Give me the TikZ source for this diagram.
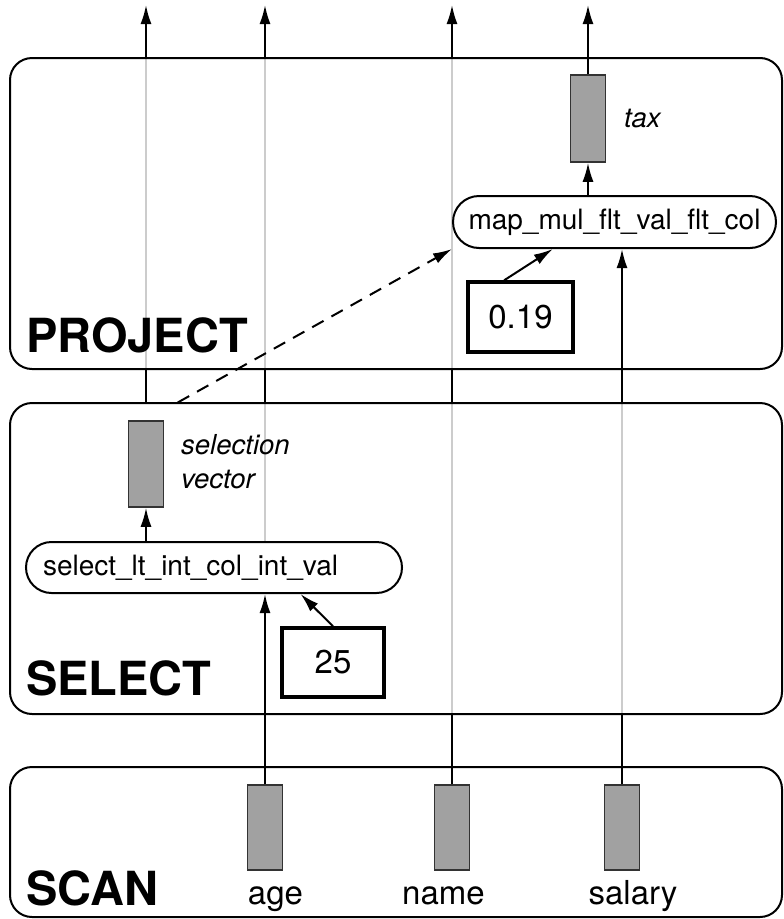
\documentclass[tikz,border=0pt]{standalone}
\usepackage{fontspec}
\setmainfont{TeX Gyre Heros}
\usetikzlibrary{arrows.meta,calc,backgrounds}
\begin{document}
\begin{tikzpicture}[x=1pt,y=-1pt,
  panel/.style={draw,line width=2pt,rounded corners=22pt,inner sep=0pt,minimum width=772pt},
  colbox/.style={draw=black!80,fill=black!37,line width=1.5pt,minimum width=35pt,inner sep=0pt},
  op/.style={draw,line width=2pt,inner sep=0pt,font=\fontsize{28}{34}\selectfont},
  val/.style={draw,line width=3.5pt,inner sep=0pt,font=\fontsize{33}{40}\selectfont},
  lbl/.style={font=\fontsize{33}{40}\selectfont,anchor=base,inner sep=0pt},
  title/.style={font=\fontsize{47}{56}\selectfont\bfseries,anchor=base west,inner sep=0pt},
  note/.style={font=\fontsize{27.5}{34}\selectfont\itshape,anchor=base west,inner sep=0pt,align=left},
  wire/.style={line width=2pt},
  arr/.style={wire,-{Latex[length=19pt,width=11pt]}},
  pass/.style={line width=2pt,draw=black!20},
]
\useasboundingbox (0,0) rectangle (784,919);

% panels
\node[panel,minimum height=311pt] (proj) at (396,213.5) {};
\node[panel,minimum height=311pt] (selp) at (396,558.5) {};
\node[panel,minimum height=150pt] (scanp) at (396,842) {};

\node[title] (tproj) at (26,352) {PROJECT};
\node[title] (tsel) at (26,695) {SELECT};
\node[title] (tscan) at (26,905) {SCAN};

% columns
\node[colbox,minimum height=85pt] (age) at (265,827.5) {};
\node[colbox,minimum height=85pt] (name) at (452,827.5) {};
\node[colbox,minimum height=85pt] (salary) at (622,827.5) {};
\node[lbl] (agel) at (275.5,904) {age};
\node[lbl] (namel) at (443.5,904) {name};
\node[lbl] (salaryl) at (633,904) {salary};

\node[colbox,minimum height=86pt] (selvec) at (146,464) {};
\node[note] (selvecl) at (181,488) {selection\\vector};
\node[colbox,minimum height=87pt] (tax) at (588,118.5) {};
\node[note] (taxl) at (624,127) {tax};

% operators
\node[op,rounded corners=25.5pt,minimum height=51pt,text width=342pt,inner xsep=17pt,align=left] (sel) at (214,567.5) {select\_lt\_int\_col\_int\_val};
\node[op,rounded corners=26pt,minimum height=52pt,minimum width=323pt] (map) at (614.5,222) {map\_mul\_flt\_val\_flt\_col};

% constants
\node[val,minimum width=102pt,minimum height=69pt] (v25) at (333,662.5) {25};
\node[val,minimum width=105pt,minimum height=70pt] (v019) at (520.5,317) {0.19};

% top ends
\coordinate (t1) at (146,5);
\coordinate (t2) at (265,5);
\coordinate (t3) at (452,5);
\coordinate (t4) at (588,5);

\begin{pgfonlayer}{background}
  \draw[pass] (t1 |- proj.south) -- (t1 |- proj.north);
  \draw[pass] (age.north |- sel.north) -- (age.north |- selp.north);
  \draw[pass] (age.north |- proj.south) -- (age.north |- proj.north);
  \draw[pass] (name.north |- selp.south) -- (name.north |- selp.north);
  \draw[pass] (name.north |- proj.south) -- (name.north |- proj.north);
  \draw[pass] (salary.north |- selp.south) -- (salary.north |- selp.north);
\end{pgfonlayer}

% selection vector column
\draw[wire] (t1 |- selp.north) -- (t1 |- proj.south);
\draw[arr] (t1 |- proj.north) -- (t1);
\draw[arr] (selvec.south |- sel.north) -- (selvec.south);

% age column
\draw[arr] (age.north) -- (age.north |- sel.south);
\draw[wire] (age.north |- selp.north) -- (age.north |- proj.south);
\draw[arr] (age.north |- proj.north) -- (t2);

% name column
\draw[wire] (name.north) -- (name.north |- selp.south);
\draw[wire] (name.north |- selp.north) -- (name.north |- proj.south);
\draw[arr] (name.north |- proj.north) -- (t3);

% salary column
\draw[wire] (salary.north) -- (salary.north |- selp.south);
\draw[arr] (salary.north |- selp.north) -- (salary.north |- map.south);

% tax column
\draw[arr] (tax.south |- map.north) -- (tax.south);
\draw[arr] (tax.north) -- (t4);

% constants into operators
\draw[arr] (v25.north) -- ($(sel.south west)!0.729!(sel.south east)$);
\draw[arr] ($(v019.north west)!0.35!(v019.north east)$) -- ($(map.south west)!0.31!(map.south east)$);

% dashed selection-vector use
\path (selvec.north) -- (map.south west) coordinate[pos=0.104] (dstart);
\draw[arr,dashed,dash pattern=on 13pt off 9pt] (dstart) -- (map.south west);
\end{tikzpicture}
\end{document}
